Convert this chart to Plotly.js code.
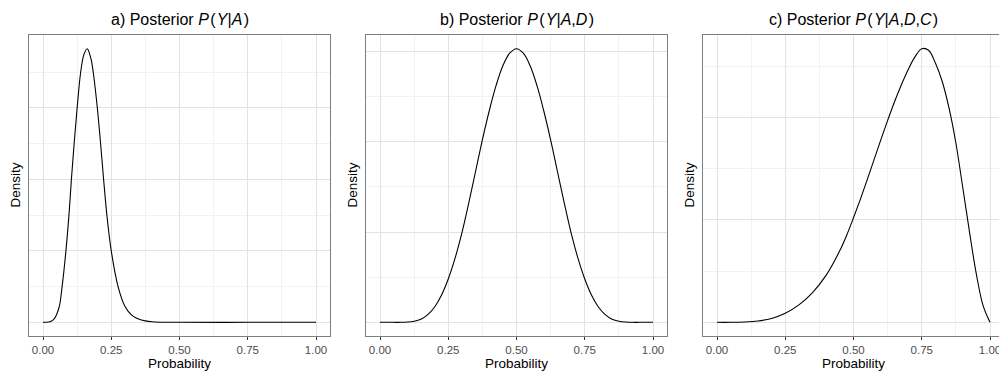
<!DOCTYPE html>
<html>
<head>
<meta charset="utf-8">
<script src="https://cdn.plot.ly/plotly-3.0.1.min.js"></script>
<style>
  html, body { margin: 0; padding: 0; background: #ffffff; overflow: hidden; }
  #chart { width: 1010px; height: 372px; }
</style>
</head>
<body>
<div id="chart"></div>
<script>
// ---- Data ----
const panelTitles = [
  'a) Posterior <i>P</i>\u200A(\u200A<i>Y</i>|<i>A</i>\u200A)',
  'b) Posterior <i>P</i>\u200A(\u200A<i>Y</i>|<i>A</i>,<i>D</i>\u200A)',
  'c) Posterior <i>P</i>\u200A(\u200A<i>Y</i>|<i>A</i>,<i>D</i>,<i>C</i>\u200A)'
];
const xTickVals = [0, 0.25, 0.5, 0.75, 1];
const xTickText = ['0.00', '0.25', '0.50', '0.75', '1.00'];
const xAxisTitle = 'Probability';
const yAxisTitle = 'Density';

// Panel a: P(Y|A)
const xA = [0, 0.02, 0.03, 0.04, 0.05, 0.06, 0.07, 0.084, 0.095, 0.104, 0.114, 0.125, 0.138, 0.15, 0.162, 0.175, 0.184, 0.199, 0.211, 0.222, 0.234, 0.25, 0.275, 0.3, 0.325, 0.35, 0.375, 0.4, 0.45, 0.5, 0.75, 1.0];
const yA = [0, 0.008, 0.03, 0.09, 0.22, 0.45, 1.0, 2.0, 3.0, 4.0, 5.0, 6.0, 7.0, 7.5, 7.66, 7.4, 7.0, 6.0, 5.0, 4.0, 3.0, 2.0, 1.0, 0.45, 0.2, 0.09, 0.04, 0.017, 0.003, 0, 0, 0];

// Panel b: P(Y|A,D)
const xB = [0, 0.05, 0.075, 0.1, 0.125, 0.15, 0.175, 0.2, 0.225, 0.25, 0.275, 0.3, 0.325, 0.35, 0.375, 0.4, 0.425, 0.45, 0.475, 0.5,
            0.525, 0.55, 0.575, 0.6, 0.625, 0.65, 0.675, 0.7, 0.725, 0.75, 0.775, 0.8, 0.825, 0.85, 0.875, 0.9, 0.925, 0.95, 1.0];
const yB = [0, 0, 0, 0.003, 0.012, 0.035, 0.085, 0.17, 0.30, 0.48, 0.71, 0.99, 1.32, 1.67, 2.02, 2.34, 2.62, 2.84, 2.98, 3.03,
            2.98, 2.84, 2.62, 2.34, 2.02, 1.67, 1.32, 0.99, 0.71, 0.48, 0.30, 0.17, 0.085, 0.035, 0.012, 0.003, 0, 0, 0];

// Panel c: P(Y|A,D,C)
const xC = [0, 0.05, 0.1, 0.15, 0.2, 0.25, 0.3, 0.35, 0.4, 0.45, 0.475, 0.5, 0.525, 0.55, 0.575, 0.6, 0.625, 0.65, 0.675, 0.7, 0.725, 0.75, 0.775, 0.8, 0.825, 0.85, 0.875, 0.9, 0.925, 0.95, 0.975, 1.0];
const yC = [0, 0, 0.003, 0.013, 0.038, 0.088, 0.17, 0.29, 0.46, 0.70, 0.85, 1.02, 1.20, 1.39, 1.585, 1.78, 1.97, 2.15, 2.315, 2.465, 2.59, 2.67, 2.655, 2.53, 2.35, 2.09, 1.75, 1.32, 0.88, 0.47, 0.16, 0];

const yMajor = [[0, 2, 4, 6], [0, 1, 2, 3], [0, 1, 2]];
const yMinor = [[1, 3, 5, 7], [0.5, 1.5, 2.5], [0.5, 1.5, 2.5]];

// ---- Layout geometry ----
const W = 1010, H = 372;
const panelLeft = [29.35, 366.35, 703.35];
const panelWidth = 300.3;
const plotTop = 35, plotBottom = 336;
const FONT = 'Liberation Sans, Arial, Helvetica, sans-serif';

const xs = [xA, xB, xC];
const ys = [yA, yB, yC];

const traces = xs.map((x, i) => ({
  x: x,
  y: ys[i],
  type: 'scatter',
  mode: 'lines',
  line: { color: '#000000', width: 1.1, shape: 'spline', smoothing: 1 },
  xaxis: i === 0 ? 'x' : 'x' + (i + 1),
  yaxis: i === 0 ? 'y' : 'y' + (i + 1),
  hoverinfo: 'skip'
}));

const layout = {
  width: W,
  height: H,
  margin: { l: 0, r: 0, t: 0, b: 0, pad: 0 },
  paper_bgcolor: '#ffffff',
  plot_bgcolor: '#ffffff',
  showlegend: false,
  font: { family: FONT, color: '#000000' },
  annotations: []
};

for (let i = 0; i < 3; i++) {
  const suffix = i === 0 ? '' : String(i + 1);
  const yvals = ys[i];
  const ymax = Math.max.apply(null, yvals);
  const pad = 0.05 * ymax;
  const d0 = panelLeft[i] / W;
  const d1 = (panelLeft[i] + panelWidth) / W;
  layout['xaxis' + suffix] = {
    domain: [d0, d1],
    anchor: 'y' + suffix,
    range: [-0.05, 1.05],
    tickmode: 'array',
    tickvals: xTickVals,
    ticktext: xTickText,
    ticks: 'outside',
    ticklen: 3,
    tickwidth: 1,
    tickcolor: '#333333',
    tickfont: { family: FONT, size: 11.5, color: '#4d4d4d' },
    showgrid: true,
    gridcolor: '#e3e3e3',
    gridwidth: 1,
    minor: { dtick: 0.125, tick0: 0, showgrid: true, gridcolor: '#f2f2f2', gridwidth: 1, ticks: '' },
    zeroline: false,
    showline: true,
    mirror: true,
    linecolor: '#7f7f7f',
    linewidth: 1,
    fixedrange: true
  };
  layout['yaxis' + suffix] = {
    domain: [1 - plotBottom / H, 1 - plotTop / H],
    anchor: 'x' + suffix,
    range: [-pad, ymax + pad],
    tickmode: 'array',
    tickvals: yMajor[i],
    showticklabels: false,
    ticks: '',
    showgrid: true,
    gridcolor: '#e3e3e3',
    gridwidth: 1,
    minor: { tickmode: 'array', tickvals: yMinor[i], showgrid: true, gridcolor: '#f2f2f2', gridwidth: 1, ticks: '' },
    zeroline: false,
    showline: true,
    mirror: true,
    linecolor: '#7f7f7f',
    linewidth: 1,
    fixedrange: true
  };
  const cx = (panelLeft[i] + panelWidth / 2) / W;
  // Panel title
  layout.annotations.push({
    xref: 'paper', yref: 'paper', x: cx, y: 1 - 20 / H,
    xanchor: 'center', yanchor: 'middle', showarrow: false,
    text: panelTitles[i],
    font: { family: FONT, size: 16, color: '#000000' }
  });
  // X axis title
  layout.annotations.push({
    xref: 'paper', yref: 'paper', x: cx, y: 1 - 363 / H,
    xanchor: 'center', yanchor: 'middle', showarrow: false,
    text: xAxisTitle,
    font: { family: FONT, size: 13.5, color: '#000000' }
  });
  // Y axis title
  layout.annotations.push({
    xref: 'paper', yref: 'paper', x: (panelLeft[i] - 14.3) / W, y: 1 - ((plotTop + plotBottom) / 2) / H,
    xanchor: 'center', yanchor: 'middle', showarrow: false, textangle: -90,
    text: yAxisTitle,
    font: { family: FONT, size: 13.5, color: '#000000' }
  });
}

Plotly.newPlot('chart', traces, layout, { staticPlot: true, displayModeBar: false });
</script>
</body>
</html>
